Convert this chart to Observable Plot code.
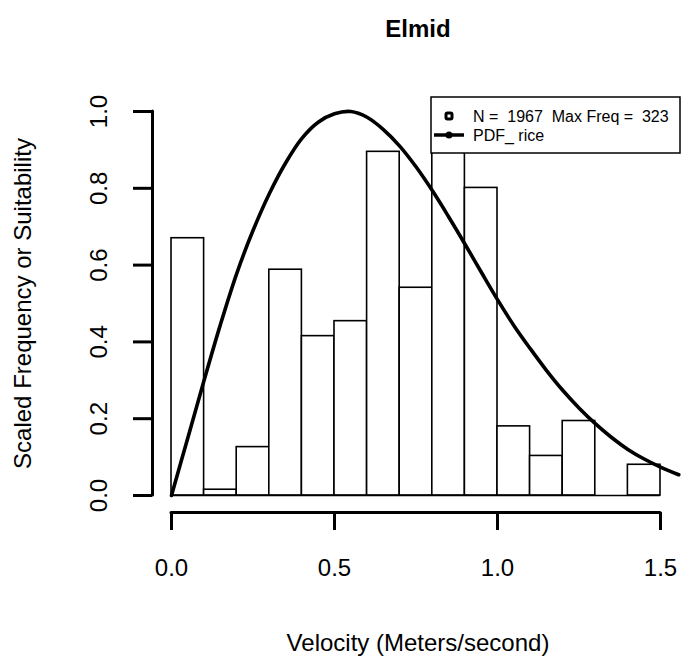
<!DOCTYPE html>
<html>
<head>
<meta charset="utf-8">
<script src="https://cdn.jsdelivr.net/npm/d3@7"></script>
<script src="https://cdn.jsdelivr.net/npm/@observablehq/plot@0.6"></script>
<style>
  body { margin: 0; background: #fff; }
  svg { font-family: "Liberation Sans", Arial, sans-serif; }
</style>
</head>
<body>
<div id="chart"></div>
<script>
// Histogram bins (velocity, m/s) and scaled frequencies
const binStart = [0.0, 0.1, 0.2, 0.3, 0.4, 0.5, 0.6, 0.7, 0.8, 0.9, 1.0, 1.1, 1.2, 1.3, 1.4];
const binEnd   = [0.1, 0.2, 0.3, 0.4, 0.5, 0.6, 0.7, 0.8, 0.9, 1.0, 1.1, 1.2, 1.3, 1.4, 1.5];
const scaledFreq = [0.67, 0.015, 0.126, 0.588, 0.415, 0.454, 0.895, 0.541, 1.0, 0.801, 0.18, 0.103, 0.194, 0, 0.08];

// PDF (rice) curve
const pdfX = [0, 0.05, 0.1, 0.15, 0.2, 0.25, 0.3, 0.35, 0.4, 0.45, 0.5, 0.55, 0.6, 0.65, 0.7, 0.75, 0.8, 0.85, 0.9, 0.95, 1.0, 1.05, 1.1, 1.15, 1.2, 1.25, 1.3, 1.35, 1.4, 1.45, 1.5, 1.556];
const pdfY = [0, 0.15, 0.30, 0.445, 0.578, 0.69, 0.786, 0.866, 0.93, 0.972, 0.994, 1.0, 0.985, 0.953, 0.91, 0.856, 0.794, 0.726, 0.655, 0.582, 0.51, 0.443, 0.383, 0.326, 0.274, 0.228, 0.187, 0.151, 0.12, 0.095, 0.074, 0.054];

const xTicks = [0.0, 0.5, 1.0, 1.5];
const yTicks = [0.0, 0.2, 0.4, 0.6, 0.8, 1.0];

const title = "Elmid";
const xLabel = "Velocity (Meters/second)";
const yLabel = "Scaled Frequency or Suitability";
const legendLabels = ["N =  1967  Max Freq =  323", "PDF_ rice"];

const bars = binStart.map((s, i) => ({x1: s, x2: binEnd[i], y: scaledFreq[i]}));
const curve = pdfX.map((x, i) => ({x, y: pdfY[i]}));

const xDomain = [-0.0583, 1.5706];
const yDomain = [-0.0443, 1.0443];
const font = 24;

const svg = Plot.plot({
  width: 683,
  height: 669,
  marginLeft: 152,
  marginRight: 0,
  marginTop: 94,
  marginBottom: 157,
  x: {domain: xDomain, axis: null},
  y: {domain: yDomain, axis: null},
  style: {fontFamily: '"Liberation Sans", Arial, sans-serif', background: "white"},
  marks: [
    Plot.rectY(bars, {x1: "x1", x2: "x2", y1: 0, y2: "y", fill: "white", stroke: "black", strokeWidth: 1.6}),
    Plot.ruleY([0], {x1: binStart[0], x2: binEnd[binEnd.length - 1], stroke: "black", strokeWidth: 1.6}),
    Plot.line(curve, {x: "x", y: "y", stroke: "black", strokeWidth: 3.6, curve: "catmull-rom"}),
    // y axis
    Plot.ruleX([xDomain[0]], {y1: yTicks[0], y2: yTicks[yTicks.length - 1], stroke: "black", strokeWidth: 3, strokeLinecap: "round"}),
    Plot.axisY(yTicks, {anchor: "left", tickSize: 19, tickFormat: () => "", strokeWidth: 3, label: null}),
    Plot.text(yTicks, {y: d => d, text: d => d.toFixed(1), frameAnchor: "left", dx: -53, rotate: -90, fontSize: font, textAnchor: "middle"}),
    Plot.text([yLabel], {frameAnchor: "left", dx: -129, rotate: -90, fontSize: font, textAnchor: "middle"}),
    // x axis
    Plot.ruleY([yDomain[0]], {x1: xTicks[0], x2: xTicks[xTicks.length - 1], stroke: "black", strokeWidth: 3, strokeLinecap: "round"}),
    Plot.axisX(xTicks, {anchor: "bottom", tickSize: 18, tickFormat: () => "", strokeWidth: 3, label: null}),
    Plot.text(xTicks, {x: d => d, text: d => d.toFixed(1), frameAnchor: "bottom", dy: 63, fontSize: font}),
    Plot.text([xLabel], {frameAnchor: "bottom", dy: 138, fontSize: font}),
    // title
    Plot.text([title], {frameAnchor: "top", dy: -75, fontSize: font, fontWeight: "bold"})
  ]
});

// Legend box (drawn over the plot like R's legend())
const g = d3.select(svg).append("g")
  .attr("font-family", '"Liberation Sans", Arial, sans-serif')
  .attr("text-anchor", "start");
g.append("rect").attr("x", 431).attr("y", 97).attr("width", 249).attr("height", 56)
  .attr("fill", "white").attr("stroke", "black").attr("stroke-width", 1.5);
g.append("rect").attr("x", 446).attr("y", 113).attr("width", 6).attr("height", 6).attr("rx", 1.5)
  .attr("fill", "white").attr("stroke", "black").attr("stroke-width", 3);
g.append("line").attr("x1", 434).attr("x2", 464).attr("y1", 135).attr("y2", 135)
  .attr("stroke", "black").attr("stroke-width", 3.5);
g.append("circle").attr("cx", 449).attr("cy", 135).attr("r", 3.5).attr("fill", "black");
legendLabels.forEach((t, i) => {
  g.append("text").attr("x", 473).attr("y", 116 + i * 19.5).attr("dy", "0.35em")
    .attr("text-anchor", "start")
    .attr("font-size", 16).attr("fill", "black").style("white-space", "pre").text(t);
});

document.getElementById("chart").appendChild(svg);
</script>
</body>
</html>
